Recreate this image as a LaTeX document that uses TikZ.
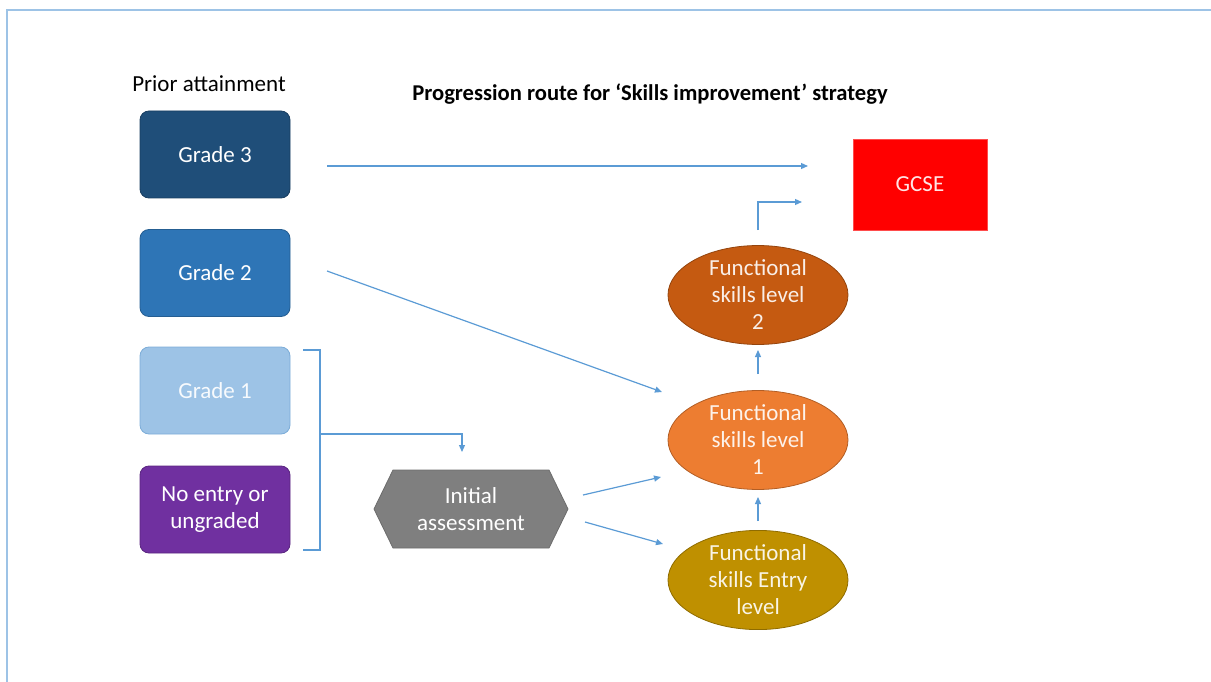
\documentclass[tikz,border=0pt]{standalone}
\usepackage{fontspec}
\setmainfont{Carlito}
\usetikzlibrary{shapes.geometric,arrows.meta}
\definecolor{frameblue}{HTML}{9DC3E6}
\definecolor{linkblue}{HTML}{5B9BD5}
\definecolor{gthree}{HTML}{1F4E79}
\definecolor{gtwo}{HTML}{2E75B6}
\definecolor{gone}{HTML}{9DC3E6}
\definecolor{gnone}{HTML}{7030A0}
\definecolor{hexgray}{HTML}{7F7F7F}
\definecolor{fsone}{HTML}{ED7D31}
\definecolor{fstwo}{HTML}{C55A11}
\definecolor{fsentry}{HTML}{BF9000}
\tikzset{
  x=1pt,y=-1pt,
  gradebox/.style={rounded corners=9pt,minimum width=150pt,minimum height=87pt,inner sep=0pt,align=center,text=white,font=\fontsize{23}{27}\selectfont,draw=#1!80!black,fill=#1,line width=0.8pt},
  fsell/.style={ellipse,minimum width=180pt,minimum height=94pt,inner sep=0pt,align=center,text=white!90!#1,font=\fontsize{23}{27}\selectfont,fill=#1,draw=#1!75!black,line width=0.8pt},
  link/.style={draw=linkblue,line width=1.2pt,-{Triangle[length=7pt,width=6pt]}},
  plain/.style={draw=linkblue,line width=1.2pt},
}
\begin{document}
\begin{tikzpicture}
\useasboundingbox (0,0) rectangle (1211,682);
\draw[frameblue,line width=2pt] (7,682) -- (7,10) -- (1211,10);
\node (prior) at (209,84) {\fontsize{23}{27}\selectfont Prior attainment};
\node (title) at (650,94) {\fontsize{22.6}{27}\selectfont\bfseries Progression route for ‘Skills improvement’ strategy};
\node[gradebox=gthree] (g3) at (215,154.5) {Grade 3};
\node[gradebox=gtwo] (g2) at (215,273) {Grade 2};
\node[gradebox=gone,draw=gone!70!gtwo,text=white!92!gone] (g1) at (215,390.5) {Grade 1};
\node[gradebox=gnone] (gn) at (215,509.5) {No entry or\\ungraded};
\draw[fill=hexgray,draw=hexgray!85!black,line width=0.8pt] (374,509) -- (393,470) -- (549,470) -- (568,509) -- (549,548) -- (393,548) -- cycle;
\node[align=center,text=white,font=\fontsize{23}{27}\selectfont] (ia) at (471,509) {Initial\\assessment};
\node[fsell=fsentry] (fse) at (758,580) {Functional\\skills Entry\\level};
\node[fsell=fsone] (fs1) at (758,440) {Functional\\skills level\\1};
\node[fsell=fstwo] (fs2) at (758,295) {Functional\\skills level\\2};
\node[fill=red,draw=red!70!white,minimum width=134pt,minimum height=91pt,inner sep=0pt,text=white!90!red,font=\fontsize{23}{27}\selectfont] (gcse) at (920,184.5) {GCSE};
% connectors
\coordinate (b3a) at (327,166); \coordinate (b3b) at (808,166);
\draw[link] (b3a) -- (b3b);
\coordinate (b2a) at (327,271); \coordinate (b2b) at (662,392);
\draw[link] (b2a) -- (b2b);
\coordinate (bt) at (303,350); \coordinate (bb) at (303,550);
\coordinate (bm) at (320,434);
\draw[plain] (bt) -- (320,350) -- (320,550) -- (bb);
\coordinate (iatop) at (462,452);
\draw[link] (bm) -- (462,434) -- (iatop);
\coordinate (h1) at (583,495); \coordinate (h1e) at (661,477);
\coordinate (h2) at (585,522); \coordinate (h2e) at (663,544);
\draw[link] (h1) -- (h1e);
\draw[link] (h2) -- (h2e);
\coordinate (e1) at (758,521); \coordinate (e1e) at (758,497);
\draw[link] (e1) -- (e1e);
\coordinate (l1) at (758,374); \coordinate (l1e) at (758,350);
\draw[link] (l1) -- (l1e);
\coordinate (l2) at (758,230); \coordinate (l2e) at (802,202);
\draw[link] (l2) -- (758,202) -- (l2e);
\end{tikzpicture}
\end{document}
